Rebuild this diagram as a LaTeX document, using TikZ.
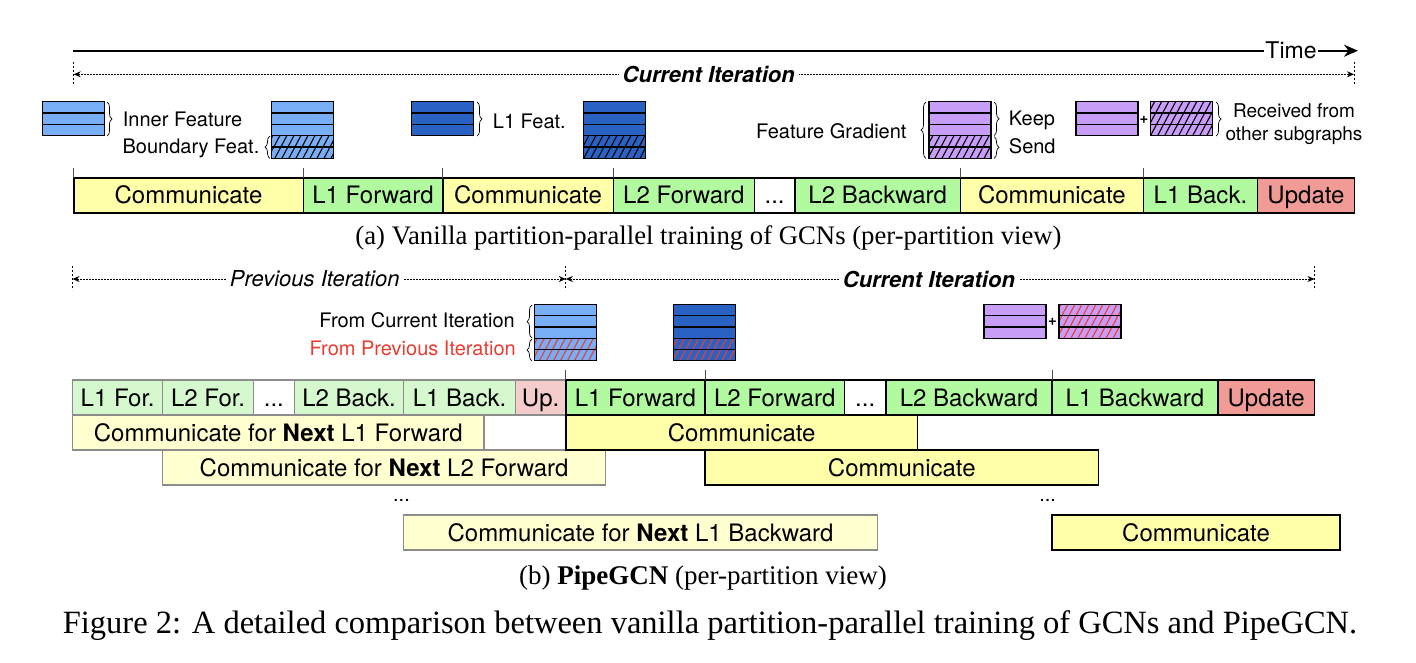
\documentclass[tikz,border=0pt]{standalone}
\usepackage{fontspec}
\setmainfont{TeX Gyre Heros}
\newfontfamily\capfont{Liberation Serif}
\usetikzlibrary{arrows.meta,decorations.pathreplacing,patterns.meta}

\definecolor{commfill}{RGB}{255,255,170}
\definecolor{oldcomm}{RGB}{255,255,208}
\definecolor{passfill}{RGB}{178,250,160}
\definecolor{oldpass}{RGB}{214,248,206}
\definecolor{updfill}{RGB}{240,155,150}
\definecolor{oldupd}{RGB}{244,204,204}
\definecolor{featblue}{RGB}{120,174,245}
\definecolor{featdark}{RGB}{42,98,196}
\definecolor{gradfill}{RGB}{199,157,248}
\definecolor{stale}{RGB}{235,60,50}

\newcommand\barfont{\fontsize{24pt}{26pt}\selectfont}
\newcommand\lblfont{\fontsize{20pt}{22.3pt}\selectfont}
\newcommand\iterfont{\fontsize{22pt}{24pt}\selectfont}

\tikzset{
	phase/.style={draw, line width=1.6pt, inner sep=0pt, outer sep=0pt, anchor=north west, minimum height=35pt, text height=17.2pt, text depth=0pt, font=\barfont},
	oldphase/.style={phase, draw=black!45, line width=1.3pt},
	cell/.style={draw, line width=1.3pt},
	fbrace/.style={decorate, decoration={brace, amplitude=5pt}, line width=0.7pt},
	iterline/.style={line width=0.8pt, dash pattern=on 1.6pt off 1.4pt, {Stealth[length=7pt,width=6pt]}-{Stealth[length=7pt,width=6pt]}},
	iterend/.style={line width=0.7pt, dash pattern=on 2pt off 2pt},
	tick/.style={line width=0.9pt, black!70},
	lbl/.style={inner sep=0pt, font=\lblfont},
}

% stack of feature rows: (x,y)(colour:rows:plain rows:hatch colour)
\def\featstack(#1,#2)(#3:#4:#5:#6){%
	\foreach \r in {1,...,#4}{%
		\ifnum\r>#5\relax
			\draw[cell, preaction={fill=#3}, pattern={Lines[angle=62,distance=6.2pt,line width=1.1pt]}, pattern color=#6] (#1,{#2+(\r-1)*11.3}) rectangle ++(62,11.3);
		\else
			\draw[cell, fill=#3] (#1,{#2+(\r-1)*11.3}) rectangle ++(62,11.3);
		\fi}}

\begin{document}
\begin{tikzpicture}[x=1pt, y=-1pt]
		%%%%% START %%%%%
		\useasboundingbox (0,0) rectangle (1416,662);
		
		% time axis
		\node[inner sep=1pt, font=\fontsize{23pt}{25pt}\selectfont] (time) at (1291,50.7) {Time};
		\coordinate (t-start) at (73,50.7);
		\coordinate (t-end) at (1358,50.7);
		\draw[line width=2pt] (t-start) -- (time.west);
		\draw[line width=2pt, -{Stealth[length=14pt,width=12pt]}] (time.east) -- (t-end);
		
		%%% (a) vanilla
		\coordinate (ca-l) at (73.7,74.3);
		\coordinate (ca-r) at (1354,74.3);
		\draw[iterline] (ca-l) -- (ca-r) node[pos=0.496, fill=white, inner sep=4pt, font=\iterfont\bfseries\itshape] (ca) {Current Iteration};
		\draw[iterend] (ca-l) ++(0,-12.6) -- ++(0,23.3);
		\draw[iterend] (ca-r) ++(0,-12.6) -- ++(0,23.3);
		
		\featstack(42.7,101.7)(featblue:3:3:black)
		\featstack(271.7,101.7)(featblue:5:3:black)
		\featstack(411.7,101.7)(featdark:3:3:black)
		\featstack(583.5,101.7)(featdark:5:3:black)
		\featstack(929,101.7)(gradfill:5:3:black)
		\featstack(1076,101.7)(gradfill:3:3:black)
		\featstack(1150.7,101.7)(gradfill:3:0:black)
		
		\draw[fbrace] (107,102) -- (107,136);
		\draw[fbrace] (270,158.3) -- (270,136);
		\draw[fbrace] (477,102) -- (477,136);
		\draw[fbrace] (926,158.3) -- (926,102);
		\draw[fbrace] (994,102) -- (994,135.5);
		\draw[fbrace] (994,136.5) -- (994,158.3);
		\draw[fbrace] (1216,102) -- (1216,136);
		
		\node[lbl, anchor=base west] (inner-lbl) at (122.7,126.5) {Inner Feature};
		\node[lbl, anchor=base east] (bnd-lbl) at (259.5,153.9) {Boundary Feat.};
		\node[lbl, anchor=base west] (l1-lbl) at (492.7,128) {L1 Feat.};
		\node[lbl, anchor=base east] (grad-lbl) at (906.7,138.9) {Feature Gradient};
		\node[lbl, anchor=base west] (keep-lbl) at (1008.7,125.5) {Keep};
		\node[lbl, anchor=base west] (send-lbl) at (1008.7,153.2) {Send};
		\node[inner sep=0pt, font=\bfseries\fontsize{15pt}{15pt}\selectfont] (plus-a) at (1144,120) {+};
		\node[lbl, align=center, font=\fontsize{19pt}{22.3pt}\selectfont] (recv-lbl) at (1294,124) {Received from\\other subgraphs};
		
		\node[phase, fill=commfill, minimum width=229.6pt] (a-comm1) at (73.7,177.7) {Communicate};
		\node[phase, fill=passfill, minimum width=139.4pt] (a-l1f) at (303.3,177.7) {L1 Forward};
		\node[phase, fill=commfill, minimum width=170.6pt] (a-comm2) at (442.7,177.7) {Communicate};
		\node[phase, fill=passfill, minimum width=141pt] (a-l2f) at (613.3,177.7) {L2 Forward};
		\node[phase, fill=white, minimum width=40.7pt] (a-dots) at (754.3,177.7) {...};
		\node[phase, fill=passfill, minimum width=165.4pt] (a-l2b) at (795,177.7) {L2 Backward};
		\node[phase, fill=commfill, minimum width=182.9pt] (a-comm3) at (960.4,177.7) {Communicate};
		\node[phase, fill=passfill, minimum width=114.3pt] (a-l1b) at (1143.3,177.7) {L1 Back.};
		\node[phase, fill=updfill, minimum width=96.7pt] (a-upd) at (1257.6,177.7) {Update};
		
		\draw[tick] (a-comm1.north west) -- ++(0,-10);
		\draw[tick] (a-l1f.north west) -- ++(0,-10);
		\draw[tick] (a-comm2.north west) -- ++(0,-10);
		\draw[tick] (a-l2f.north west) -- ++(0,-10);
		\draw[tick] (a-comm3.north west) -- ++(0,-10);
		\draw[tick] (a-l1b.north west) -- ++(0,-10);
		
		\node[font=\capfont\fontsize{26.7pt}{30pt}\selectfont] (cap-a) at (708.5,238) {(a) Vanilla partition-parallel training of GCNs (per-partition view)};
		
		%%% (b) pipelined
		\coordinate (pb-l) at (72.5,279);
		\coordinate (pb-m) at (565.8,279);
		\coordinate (pb-r) at (1314.5,279);
		\draw[iterline] (pb-l) -- (pb-m) node[pos=0.491, fill=white, inner sep=4pt, font=\iterfont\itshape] (pi) {Previous Iteration};
		\draw[iterline] (pb-m) -- (pb-r) node[pos=0.485, fill=white, inner sep=4pt, font=\iterfont\bfseries\itshape] (cb) {Current Iteration};
		\draw[iterend] (pb-l) ++(0,-13) -- ++(0,24);
		\draw[iterend] (pb-m) ++(0,-13) -- ++(0,24);
		\draw[iterend] (pb-r) ++(0,-13) -- ++(0,24);
		
		\featstack(534.6,304.3)(featblue:5:3:stale)
		\featstack(673.8,304.3)(featdark:5:3:stale)
		\featstack(984,304.3)(gradfill:3:3:black)
		\featstack(1059,304.3)(gradfill:3:0:stale)
		\node[inner sep=0pt, font=\bfseries\fontsize{15pt}{15pt}\selectfont] (plus-b) at (1052.5,322) {+};
		
		\draw[fbrace] (532,338) -- (532,305);
		\draw[fbrace] (532,361) -- (532,339);
		\node[lbl, anchor=base east] (cur-lbl) at (515,327.2) {From Current Iteration};
		\node[lbl, anchor=base east, text=stale] (prev-lbl) at (516,355.2) {From Previous Iteration};
		
		\node[oldphase, fill=oldpass, minimum width=90.2pt] (p-l1f) at (72.5,380) {L1 For.};
		\node[oldphase, fill=oldpass, minimum width=90.6pt] (p-l2f) at (162.7,380) {L2 For.};
		\node[oldphase, fill=white, minimum width=41.1pt] (p-dots) at (253.3,380) {...};
		\node[oldphase, fill=oldpass, minimum width=109.4pt] (p-l2b) at (294.4,380) {L2 Back.};
		\node[oldphase, fill=oldpass, minimum width=111.6pt] (p-l1b) at (403.8,380) {L1 Back.};
		\node[oldphase, fill=oldupd, minimum width=50.4pt] (p-up) at (515.4,380) {Up.};
		
		\node[oldphase, fill=oldcomm, minimum width=411.5pt] (p-c1) at (72.5,415) {Communicate for \textbf{Next} L1 Forward};
		\node[oldphase, fill=oldcomm, minimum width=442.8pt] (p-c2) at (162.7,450) {Communicate for \textbf{Next} L2 Forward};
		\node[lbl] (p-more) at (401.5,500) {...};
		\node[oldphase, fill=oldcomm, minimum width=473.5pt] (p-c3) at (403.8,515) {Communicate for \textbf{Next} L1 Backward};
		
		\node[phase, fill=passfill, minimum width=139.2pt] (b-l1f) at (565.8,380) {L1 Forward};
		\node[phase, fill=passfill, minimum width=139.4pt] (b-l2f) at (705,380) {L2 Forward};
		\node[phase, fill=white, minimum width=41.6pt] (b-dots) at (844.4,380) {...};
		\node[phase, fill=passfill, minimum width=166pt] (b-l2b) at (886,380) {L2 Backward};
		\node[phase, fill=passfill, minimum width=165.7pt] (b-l1b) at (1052,380) {L1 Backward};
		\node[phase, fill=updfill, minimum width=96.8pt] (b-upd) at (1217.7,380) {Update};
		
		\node[phase, fill=commfill, minimum width=351.8pt] (b-c1) at (565.8,415) {Communicate};
		\node[phase, fill=commfill, minimum width=393.5pt] (b-c2) at (705,450) {Communicate};
		\node[lbl] (b-more) at (1047.7,500) {...};
		\node[phase, fill=commfill, minimum width=288pt] (b-c3) at (1052,515) {Communicate};
		
		\draw[tick] (b-l1f.north west) -- ++(0,-10);
		\draw[tick] (b-l2f.north west) -- ++(0,-10);
		\draw[tick] (b-l1b.north west) -- ++(0,-10);
		
		\node[font=\capfont\fontsize{27pt}{30pt}\selectfont] (cap-b) at (703,578) {(b) \textbf{PipeGCN} (per-partition view)};
		\node[font=\capfont\fontsize{32.5pt}{36pt}\selectfont] (cap-main) at (710,626) {Figure 2: A detailed comparison between vanilla partition-parallel training of GCNs and PipeGCN.};
		
		%%%%% END %%%%%
\end{tikzpicture}
\end{document}
